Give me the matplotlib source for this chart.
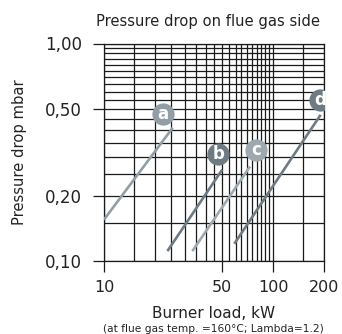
import matplotlib
matplotlib.use("Agg")
import matplotlib.pyplot as plt
from matplotlib.ticker import FixedLocator, NullFormatter, FixedFormatter

plt.rcParams['font.family'] = ['DejaVu Sans']

# Data
series_names = ['a', 'b', 'c', 'd']
series_x = {'a': [10, 25.5], 'b': [23.7, 50], 'c': [33.3, 73], 'd': [59, 191]}
series_y = {'a': [0.155, 0.41], 'b': [0.111, 0.263], 'c': [0.111, 0.272], 'd': [0.12, 0.47]}
label_x = {'a': 22.3, 'b': 47.4, 'c': 79, 'd': 189.7}
label_y = {'a': 0.472, 'b': 0.311, 'c': 0.323, 'd': 0.547}
series_colors = {'a': '#929ea6', 'b': '#6f7b83', 'c': '#9ea9af', 'd': '#6f7b83'}

x_ticks = [10, 50, 100, 200]
x_tick_labels = ['10', '50', '100', '200']
y_ticks = [0.1, 0.2, 0.5, 1.0]
y_tick_labels = ['0,10', '0,20', '0,50', '1,00']
x_grid = [10, 15, 20, 25, 30, 35, 40, 45, 50, 55, 60, 65, 70, 75, 80, 85, 90, 95, 100, 150, 200]
y_grid = [0.10, 0.15, 0.20, 0.25, 0.30, 0.35, 0.40, 0.45, 0.50, 0.55, 0.60,
          0.65, 0.70, 0.75, 0.80, 0.85, 0.90, 0.95, 1.00]

fig = plt.figure(figsize=(3.42, 3.34), dpi=100)
ax = fig.add_axes([104/342, 1 - 261/334, 220/342, 217.5/334])
ax.set_xscale('log')
ax.set_yscale('log')
ax.set_xlim(10, 200)
ax.set_ylim(0.1, 1.0)

for v in x_grid:
    ax.axvline(v, color='#1a1a1a', lw=0.9, zorder=1)
for v in y_grid:
    ax.axhline(v, color='#1a1a1a', lw=0.9, zorder=1)

for n in series_names:
    ax.plot(series_x[n], series_y[n], color=series_colors[n], lw=1.9,
            solid_capstyle='butt', zorder=3)
    ax.plot([label_x[n]], [label_y[n]], 'o', ms=16, color=series_colors[n],
            mec=series_colors[n], mew=0, zorder=4)
    ax.text(label_x[n], label_y[n], n, color='white', fontsize=12, fontweight='bold',
            ha='center', va='center', zorder=5)

ax.xaxis.set_major_locator(FixedLocator(x_ticks))
ax.xaxis.set_major_formatter(FixedFormatter(x_tick_labels))
ax.xaxis.set_minor_locator(FixedLocator([]))
ax.xaxis.set_minor_formatter(NullFormatter())
ax.yaxis.set_major_locator(FixedLocator(y_ticks))
ax.yaxis.set_major_formatter(FixedFormatter(y_tick_labels))
ax.yaxis.set_minor_locator(FixedLocator([]))
ax.yaxis.set_minor_formatter(NullFormatter())
ax.tick_params(axis='y', which='major', length=8, width=0.9, color='#1a1a1a',
               labelsize=12, labelcolor='#222222', pad=8)
ax.tick_params(axis='x', which='major', length=8, width=0.9, color='#1a1a1a',
               labelsize=11.5, labelcolor='#222222', pad=6)

for s in ax.spines.values():
    s.set_color('#1a1a1a')
    s.set_linewidth(0.9)

fig.text(208/342, 1 - 21.5/334, 'Pressure drop on flue gas side', fontsize=10.6,
         color='#222222', ha='center', va='center')
fig.text(20/342, 1 - 152/334, 'Pressure drop mbar', fontsize=10.6, color='#222222',
         ha='center', va='center', rotation=90)
fig.text(214/342, 1 - 313/334, 'Burner load, kW', fontsize=11, color='#222222',
         ha='center', va='center')
fig.text(213/342, 1 - 328.5/334, '(at flue gas temp. =160\u00b0C; Lambda=1.2)', fontsize=7.7,
         color='#222222', ha='center', va='center')

fig.savefig('out.png', dpi=100)
